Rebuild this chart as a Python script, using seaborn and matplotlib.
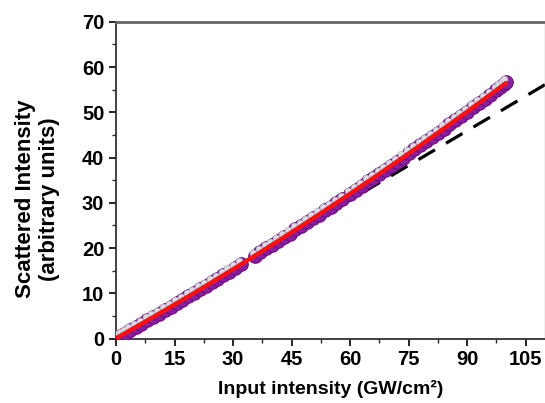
import numpy as np
import pandas as pd
import matplotlib
matplotlib.use("Agg")
import matplotlib.pyplot as plt
from matplotlib.transforms import offset_copy
import seaborn as sns

# measured points (input intensity GW/cm^2, scattered intensity a.u.)
input_int = [0.5, 1.5, 2.5, 3.5, 5.0, 6.5, 8.0, 9.5, 11.0, 12.5, 14.0, 15.5,
             17.0, 18.5, 20.0, 21.5, 23.0, 24.5, 26.0, 27.5, 29.0, 30.5, 32.0,
             35.5, 37.0, 38.5, 40.0, 41.5, 43.0, 44.5, 46.0, 47.5, 49.0, 50.5,
             52.0, 53.5, 55.0, 56.5, 58.0, 60.0, 61.5, 63.0, 64.5, 66.0, 67.5,
             69.0, 70.5, 72.0, 73.5, 75.0, 76.5, 78.0, 79.5, 81.0, 82.5, 84.0,
             85.5, 87.0, 88.5, 90.0, 91.5, 93.0, 94.5, 96.0, 97.5, 98.5, 99.5,
             100.0]
scattered = [0.3, 0.8, 1.3, 1.8, 2.5, 3.3, 4.0, 4.8, 5.5, 6.3, 7.0, 7.8,
             8.6, 9.3, 10.1, 10.9, 11.7, 12.5, 13.2, 14.0, 14.8, 15.6, 16.4,
             18.3, 19.1, 19.9, 20.7, 21.6, 22.4, 23.2, 24.1, 24.9, 25.7, 26.6,
             27.4, 28.3, 29.1, 30.0, 30.9, 32.0, 32.9, 33.8, 34.7, 35.5, 36.4,
             37.3, 38.2, 39.1, 40.0, 40.9, 41.8, 42.7, 43.6, 44.6, 45.5, 46.4,
             47.3, 48.3, 49.2, 50.1, 51.1, 52.0, 53.0, 53.9, 54.9, 55.5, 56.2,
             56.6]

# linear reference (low-intensity slope)
lin_x = [0, 110]
lin_y = [0, 56.1]

df = pd.DataFrame({"x": input_int, "y": scattered})
coef = np.polyfit(df["x"], df["y"], 2)
fit_x = np.linspace(0, max(input_int), 200)
fit_y = np.polyval(coef, fit_x)

sns.set_theme(style="ticks")
plt.rcParams["font.family"] = ["Liberation Sans", "DejaVu Sans"]
plt.rcParams["font.weight"] = "bold"
plt.rcParams["text.color"] = "black"
plt.rcParams["axes.labelcolor"] = "black"

fig = plt.figure(figsize=(5.45, 4.03), dpi=100)
ax = fig.add_axes([0.213, 0.160, 0.787, 0.786])

# spheres: purple body + light highlight
sns.scatterplot(data=df, x="x", y="y", ax=ax, s=95, color="#8a1f9e",
                edgecolor="#6a1080", linewidth=0.8, zorder=3, legend=False)
hl = offset_copy(ax.transData, fig=fig, x=-1.2, y=2.2, units="points")
ax.scatter(df["x"], df["y"], s=24, color="#dcdae2", edgecolor="#b8b0c0",
           linewidth=0.4, transform=hl, zorder=4)

sns.lineplot(x=lin_x, y=lin_y, ax=ax, color="black", lw=2.3,
             linestyle=(0, (6, 4)), zorder=2)
sns.lineplot(x=fit_x, y=fit_y, ax=ax, color="#ff1010", lw=3.0, zorder=5)

ax.set_xlim(0, 110)
ax.set_ylim(0, 70)
ax.set_xticks(np.arange(0, 106, 15))
ax.set_xticks(np.arange(0, 110, 7.5), minor=True)
ax.set_yticks(np.arange(0, 71, 10))
ax.set_yticks(np.arange(0, 71, 5), minor=True)
ax.tick_params(axis="both", which="major", direction="out", length=5,
               width=1.2, labelsize=14.5, colors="black")
ax.tick_params(axis="both", which="minor", direction="out", length=3,
               width=1.0)
for lab in ax.get_xticklabels() + ax.get_yticklabels():
    lab.set_fontweight("bold")

ax.spines["left"].set_color("#333333")
ax.spines["left"].set_linewidth(1.3)
ax.spines["bottom"].set_color("#333333")
ax.spines["bottom"].set_linewidth(1.3)
ax.spines["top"].set_color("#666666")
ax.spines["top"].set_linewidth(2.0)
ax.spines["right"].set_color("#bbbbbb")
ax.spines["right"].set_linewidth(1.0)

ax.set_xlabel("Input intensity (GW/cm²)", fontsize=14, fontweight="bold",
              labelpad=8)
ax.set_ylabel("Scattered Intensity\n(arbitrary units)", fontsize=16,
              fontweight="bold")
ax.yaxis.set_label_coords(-0.131, 0.44)

fig.savefig("out.png", dpi=100)
